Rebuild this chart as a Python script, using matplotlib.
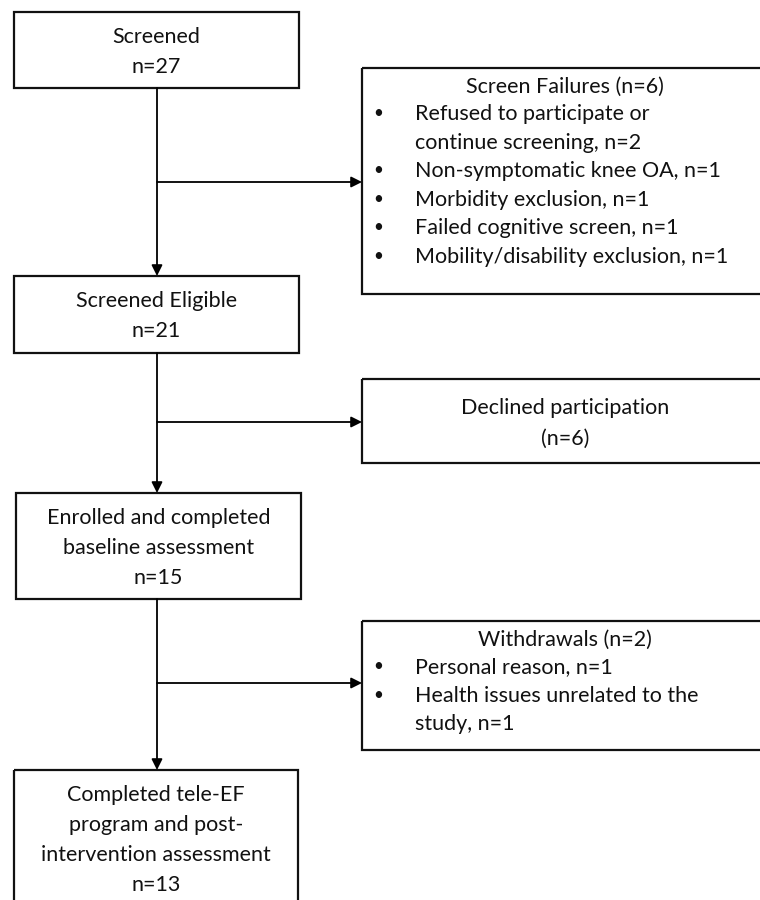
import matplotlib
matplotlib.use("Agg")
import matplotlib.pyplot as plt
from matplotlib.patches import Rectangle

plt.rcParams['font.family'] = ['Lato', 'DejaVu Sans']

# flow data
stage_labels = [["Screened"],
                ["Screened Eligible"],
                ["Enrolled and completed", "baseline assessment"],
                ["Completed tele-EF", "program and post-", "intervention assessment"]]
stage_n = [27, 21, 15, 13]

side_titles = ["Screen Failures", "Declined participation", "Withdrawals"]
side_n = [6, 6, 2]
side_reasons = [
    ["Refused to participate or\ncontinue screening",
     "Non-symptomatic knee OA",
     "Morbidity exclusion",
     "Failed cognitive screen",
     "Mobility/disability exclusion"],
    [],
    ["Personal reason",
     "Health issues unrelated to the\nstudy"],
]
side_reason_n = [[2, 1, 1, 1, 1], [], [1, 1]]

# layout (pixel units, y down)
stage_boxes = [(14, 12, 299, 88), (14, 276, 299, 353), (16, 493, 301, 599), (14, 770, 298, 915)]
side_boxes = [(362, 68, 775, 294), (362, 379, 775, 463), (362, 621, 775, 750)]
line_h = 30
fs = 15.5
ink = '#111111'

fig = plt.figure(figsize=(7.6, 9), dpi=100)
ax = fig.add_axes([0, 0, 1, 1])
ax.set_xlim(0, 760)
ax.set_ylim(900, 0)
ax.axis('off')


def box(x0, y0, x1, y1):
    ax.add_patch(Rectangle((x0, y0), x1 - x0, y1 - y0, fill=False, ec=ink, lw=1.6))


def arrow(x0, y0, x1, y1):
    ax.annotate("", xy=(x1, y1), xytext=(x0, y0),
                arrowprops=dict(arrowstyle='-|>', color='black', lw=1.3,
                                mutation_scale=16, shrinkA=0, shrinkB=0))


# main column
for i, (labels, n) in enumerate(zip(stage_labels, stage_n)):
    x0, y0, x1, y1 = stage_boxes[i]
    box(x0, y0, x1, y1)
    lines = labels + ["n=%d" % n]
    cx = (x0 + x1) / 2
    top = y0 + 25
    for k, t in enumerate(lines):
        ax.text(cx, top + k * line_h, t, ha='center', va='center', fontsize=fs, color=ink)

# vertical connectors
spine_x = 157
for i in range(len(stage_boxes) - 1):
    arrow(spine_x, stage_boxes[i][3], spine_x, stage_boxes[i + 1][1])

# side boxes
branch_y = [182, 422, 683]
for i, title in enumerate(side_titles):
    x0, y0, x1, y1 = side_boxes[i]
    box(x0, y0, x1, y1)
    arrow(spine_x, branch_y[i], x0, branch_y[i])
    cx = 565
    if side_reasons[i]:
        ax.text(cx, y0 + 19, "%s (n=%d)" % (title, side_n[i]), ha='center', va='center',
                fontsize=fs, color=ink)
        y = y0 + 19 + 27
        for reason, rn in zip(side_reasons[i], side_reason_n[i]):
            ax.text(378, y - 1, "\u2022", ha='center', va='center', fontsize=fs * 0.8, color=ink)
            for part in (reason + ", n=%d" % rn).split("\n"):
                ax.text(415, y, part, ha='left', va='center', fontsize=fs, color=ink)
                y += 28.6
    else:
        ax.text(cx, y0 + 29, title, ha='center', va='center', fontsize=fs, color=ink)
        ax.text(cx, y0 + 60, "(n=%d)" % side_n[i], ha='center', va='center', fontsize=fs, color=ink)

fig.savefig("out.png", dpi=100, facecolor='white')
